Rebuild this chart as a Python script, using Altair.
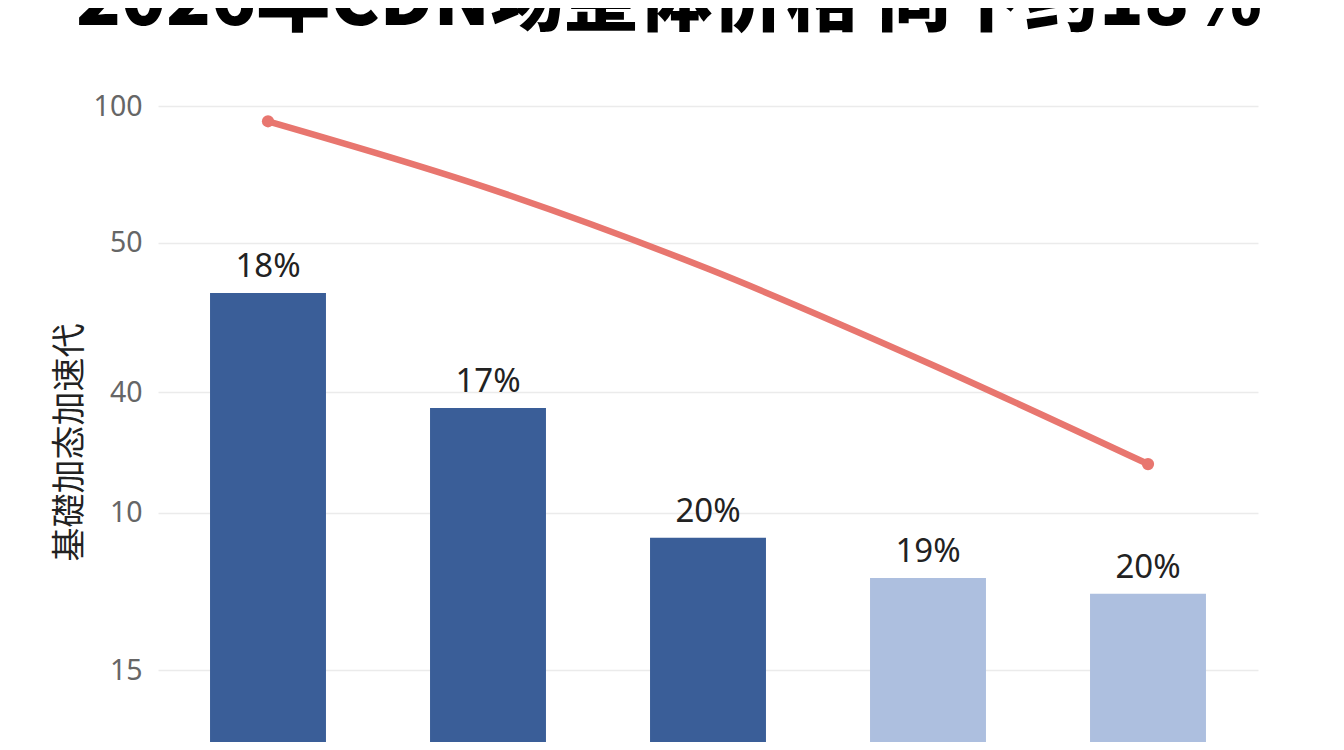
import altair as alt
import pandas as pd

# ---- data (internal plotting units, 0-100) ----
categories = ["2022", "2023", "2024", "2025E", "2026E"]
bar_values = [70.6, 52.5, 32.1, 25.8, 23.3]
bar_labels = ["18%", "17%", "20%", "19%", "20%"]
bar_types = ["实际", "实际", "实际", "预测", "预测"]
line_values = [97.6, 87.1, 74.4, 59.6, 43.7]
line_endpoint = [True, False, False, False, True]
tick_values = [100, 78.46, 55.03, 36.01, 11.32]
tick_labels = ["100", "50", "40", "10", "15"]
title_text = "2026年CDN场整体价格 同下约18%"
y_title = "基礎加态加速代"

df = pd.DataFrame({
    "cat": categories,
    "bar": bar_values,
    "label": bar_labels,
    "type": bar_types,
    "line": line_values,
    "endpoint": line_endpoint,
})
title_df = pd.DataFrame({"t": [title_text]})

# label expression mapping tick positions to the printed tick labels
expr = "''"
for v, l in reversed(list(zip(tick_values, tick_labels))):
    expr = f"abs(datum.value - {v}) < 0.01 ? '{l}' : {expr}"

yaxis = alt.Axis(
    values=tick_values,
    labelExpr=expr,
    title=y_title,
    titleFont="Noto Sans CJK SC",
    titleFontSize=34,
    titleFontWeight="normal",
    titleColor="#222222",
    titleAngle=270,
    titleAlign="center",
    titleBaseline="middle",
    titleX=-88,
    titleY=336,
    labelFont="Noto Sans",
    labelFontSize=28.5,
    labelColor="#666666",
    labelPadding=16,
    domain=False,
    ticks=False,
    grid=True,
    gridColor="#ebebeb",
    gridWidth=1.5,
)
yscale = alt.Scale(domain=[0, 100], nice=False, zero=True)
xenc = alt.X("cat:N", sort=categories, axis=None,
             scale=alt.Scale(paddingInner=0.473, paddingOuter=0.2365))

bars = alt.Chart(df).mark_bar().encode(
    x=xenc,
    y=alt.Y("bar:Q", scale=yscale, axis=yaxis),
    color=alt.Color("type:N", scale=alt.Scale(domain=["实际", "预测"],
                                              range=["#3a5e98", "#adbfdf"]),
                    legend=None),
)

labels = alt.Chart(df).mark_text(
    baseline="alphabetic", dy=-16, fontSize=33, color="#222222", font="Noto Sans"
).encode(
    x=xenc,
    y=alt.Y("bar:Q", scale=yscale, axis=yaxis),
    text="label:N",
)

line = alt.Chart(df).mark_line(
    interpolate="monotone", strokeWidth=6.5, color="#e8766f", strokeCap="round"
).encode(
    x=xenc,
    y=alt.Y("line:Q", scale=yscale, axis=yaxis),
)

dots = alt.Chart(df).transform_filter("datum.endpoint").mark_point(
    filled=True, size=150, color="#e8766f", opacity=1
).encode(
    x=xenc,
    y=alt.Y("line:Q", scale=yscale, axis=yaxis),
)

title = alt.Chart(title_df).mark_text(
    font="Noto Sans CJK SC", fontSize=74, fontWeight=900, color="#000000",
    align="center", baseline="alphabetic"
).encode(
    x=alt.value(511),
    y=alt.value(-81),
    text="t:N",
)

chart = alt.layer(bars, labels, line, dots, title).properties(
    width=1100,
    height=636,
    autosize=alt.AutoSizeParams(type="none"),
    padding={"left": 150, "top": 98, "right": 78, "bottom": 0},
    background="white",
).configure_view(strokeWidth=0)

chart.save("out.html", embed_options={"renderer": "svg", "actions": False})
